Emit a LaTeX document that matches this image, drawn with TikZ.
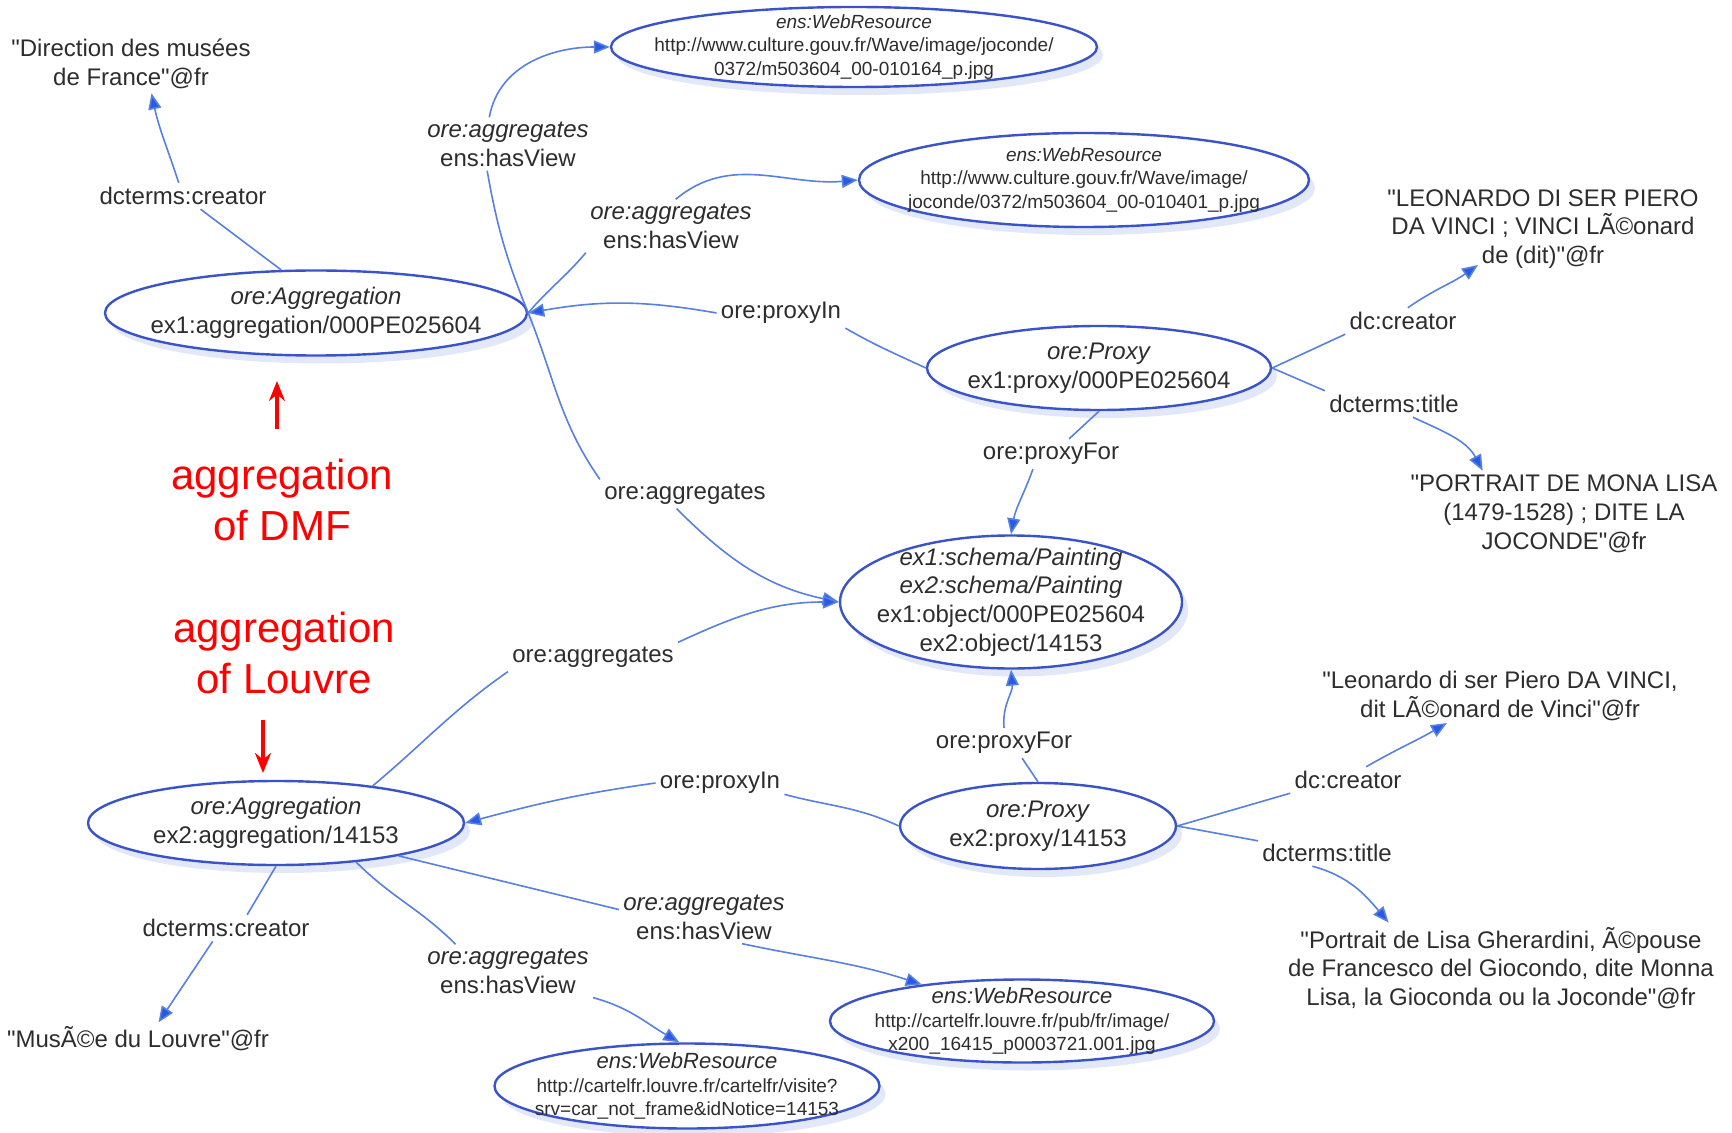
\documentclass[tikz,border=0pt]{standalone}
\usepackage{fontspec}
\setmainfont{Liberation Sans}
\usetikzlibrary{arrows.meta,shapes.geometric,shadows}
\definecolor{ellblue}{RGB}{58,84,200}
\definecolor{lineblue}{RGB}{88,128,225}
\definecolor{tipblue}{RGB}{40,90,230}
\definecolor{txt}{RGB}{45,45,45}
\definecolor{shadowblue}{RGB}{160,182,235}
\newcommand{\dq}{\textquotedbl}
\begin{document}
\begin{tikzpicture}[x=0.5pt,y=-0.5pt,
  font=\fontsize{12}{14.4}\selectfont, text=txt,
  ent/.style={ellipse, draw=ellblue, line width=1.2pt, fill=white, inner sep=-60pt, align=center,
    drop shadow={shadow xshift=3pt, shadow yshift=-4pt, fill=shadowblue, opacity=0.3}},
  wrfont/.style={font=\fontsize{9.5}{11.8}\selectfont},
  lit/.style={align=center, inner sep=2pt},
  lbl/.style={align=center, inner sep=2pt},
  conn/.style={draw=lineblue, line width=0.8pt},
  conarr/.style={conn, -{Triangle[length=8pt,width=6.5pt,fill=tipblue]}},
  redlbl/.style={text=red, font=\fontsize{21}{25.5}\selectfont, align=center},
  redarr/.style={draw=red, line width=1.6pt, -{Stealth[length=10pt,width=8pt]}}
]
\useasboundingbox (0,0) rectangle (1732,1133);
\fill[white] (0,0) rectangle (1732,1133);

% entity ellipses
\node[ent, wrfont, minimum width=243pt, minimum height=40pt] (wr1) at (854,47)
  {\textit{ens:WebResource}\\http://www.culture.gouv.fr/Wave/image/joconde/\\0372/m503604\_00-010164\_p.jpg};
\node[ent, wrfont, minimum width=225pt, minimum height=47pt] (wr2) at (1084,180)
  {\textit{ens:WebResource}\\http://www.culture.gouv.fr/Wave/image/\\joconde/0372/m503604\_00-010401\_p.jpg};
\node[ent, minimum width=211pt, minimum height=42.5pt] (agg1) at (316,313)
  {\textit{ore:Aggregation}\\ex1:aggregation/000PE025604};
\node[ent, minimum width=172pt, minimum height=42pt] (prox1) at (1099,368)
  {\textit{ore:Proxy}\\ex1:proxy/000PE025604};
\node[ent, minimum width=171pt, minimum height=66.5pt] (paint) at (1011,602)
  {\textit{ex1:schema/Painting}\\\textit{ex2:schema/Painting}\\ex1:object/000PE025604\\ex2:object/14153};
\node[ent, minimum width=188pt, minimum height=42pt] (agg2) at (276,823)
  {\textit{ore:Aggregation}\\ex2:aggregation/14153};
\node[ent, minimum width=138pt, minimum height=43pt] (prox2) at (1038,826)
  {\textit{ore:Proxy}\\ex2:proxy/14153};
\node[ent, wrfont, minimum width=192pt, minimum height=41.5pt] (wr3) at (1022,1021)
  {{\fontsize{11}{13}\selectfont\itshape ens:WebResource}\\http://cartelfr.louvre.fr/pub/fr/image/\\x200\_16415\_p0003721.001.jpg};
\node[ent, wrfont, minimum width=192.5pt, minimum height=42.5pt] (wr4) at (687,1086)
  {{\fontsize{11}{13}\selectfont\itshape ens:WebResource}\\http://cartelfr.louvre.fr/cartelfr/visite?\\srv=car\_not\_frame\&idNotice=14153};

% literals
\node[lit] (litDMF) at (131,64) {\dq Direction des musées\\de France\dq @fr};
\node[lit] (litLeo1) at (1543,229) {\dq LEONARDO DI SER PIERO\\DA VINCI ; VINCI LÃ©onard\\de (dit)\dq @fr};
\node[lit] (litT1) at (1564,514) {\dq PORTRAIT DE MONA LISA\\(1479-1528) ; DITE LA\\JOCONDE\dq @fr};
\node[lit] (litLeo2) at (1500,696) {\dq Leonardo di ser Piero DA VINCI,\\dit LÃ©onard de Vinci\dq @fr};
\node[lit] (litT2) at (1501,968) {\dq Portrait de Lisa Gherardini, Ã©pouse\\de Francesco del Giocondo, dite Monna\\Lisa, la Gioconda ou la Joconde\dq @fr};
\node[lit] (litLouvre) at (138,1039) {\dq MusÃ©e du Louvre\dq @fr};

% edge labels
\node[lbl] (lCre1) at (183,196) {dcterms:creator};
\node[lbl] (lAV1) at (508,144) {\textit{ore:aggregates}\\ens:hasView};
\node[lbl] (lAV2) at (671,226) {\textit{ore:aggregates}\\ens:hasView};
\node[lbl] (lPIn1) at (781,313) {ore:proxyIn};
\node[lbl] (lAgg1) at (685,494) {ore:aggregates};
\node[lbl] (lDC1) at (1403,321) {dc:creator};
\node[lbl] (lDT1) at (1394,404) {dcterms:title};
\node[lbl] (lPF1) at (1051,454) {ore:proxyFor};
\node[lbl] (lAgg2) at (593,657) {ore:aggregates};
\node[lbl] (lPF2) at (1004,743) {ore:proxyFor};
\node[lbl] (lPIn2) at (720,783) {ore:proxyIn};
\node[lbl] (lDC2) at (1348,780) {dc:creator};
\node[lbl] (lDT2) at (1327,853) {dcterms:title};
\node[lbl] (lCre2) at (226,928) {dcterms:creator};
\node[lbl] (lAV3) at (704,917) {\textit{ore:aggregates}\\ens:hasView};
\node[lbl] (lAV4) at (508,971) {\textit{ore:aggregates}\\ens:hasView};

% free arrow ends
\coordinate (tLeo1) at (1478,265);
\coordinate (tLeo2) at (1447,723);

% red annotations
\node[redlbl] (red1) at (282,500) {aggregation\\of DMF};
\node[redlbl] (red2) at (284,653) {aggregation\\of Louvre};
\coordinate (ra1s) at (277,429);
\coordinate (ra1e) at (277,381);
\coordinate (ra2s) at (263,720);
\coordinate (ra2e) at (263,773);
\draw[redarr] (ra1s) -- (ra1e);
\draw[redarr] (ra2s) -- (ra2e);

% connectors: aggregation 1
\draw[conn] (agg1.129) -- (lCre1);
\draw[conarr] (lCre1) to[out=108,in=-78] (litDMF.-55);
\draw[conn] (agg1.east) to[out=112,in=-80] (lAV1.232);
\draw[conarr] (lAV1.125) to[out=80,in=180] (wr1.west);
\draw[conn] (agg1.east) to[out=50,in=-130] (lAV2.south west);
\draw[conarr] (lAV2.80) to[out=40,in=185] (wr2.west);
\draw[conn] (agg1.east) to[out=-68,in=125] (lAgg1.north west);
\draw[conarr] (lAgg1.240) to[out=-45,in=168] (paint.west);

% proxy 1
\draw[conn] (prox1.west) to[out=155,in=-30] (lPIn1.south east);
\draw[conarr] (lPIn1.west) to[out=170,in=10] (agg1.east);
\draw[conn] (prox1.east) -- (lDC1.south west);
\draw[conarr] (lDC1.70) to[out=35,in=-145] (tLeo1);
\draw[conn] (prox1.east) -- (lDT1.north west);
\draw[conarr] (lDT1.-35) to[out=-25,in=118] (litT1.152);
\draw[conn] (prox1.south) -- (lPF1.40);
\draw[conarr] (lPF1.-140) to[out=-110,in=80] (paint.north);

% aggregation 2
\draw[conn] (agg2.21) to[out=40,in=-145] (lAgg2.south west);
\draw[conarr] (lAgg2.north east) to[out=25,in=180] (paint.west);
\draw[conn] (agg2.south) -- (lCre2.32);
\draw[conarr] (lCre2.-135) -- (litLouvre.39);
\draw[conn] (agg2.-15) -- (lAV3.175);
\draw[conarr] (lAV3.-35) to[out=-12,in=162] (wr3.160);
\draw[conn] (agg2.-26) to[out=-45,in=135] (lAV4.153);
\draw[conarr] (lAV4.south east) to[out=-15,in=150] (wr4.100);

% proxy 2
\draw[conn] (prox2.north) -- (lPF2.-40);
\draw[conarr] (lPF2.north) to[out=95,in=-85] (paint.south);
\draw[conn] (prox2.west) to[out=155,in=-15] (lPIn2.-10);
\draw[conarr] (lPIn2.west) to[out=188,in=15] (agg2.east);
\draw[conn] (prox2.east) -- (lDC2.south west);
\draw[conarr] (lDC2.36) to[out=30,in=-150] (tLeo2);
\draw[conn] (prox2.east) -- (lDT2.170);
\draw[conarr] (lDT2.-138) to[out=-15,in=130] (litT2.158);
\end{tikzpicture}
\end{document}
